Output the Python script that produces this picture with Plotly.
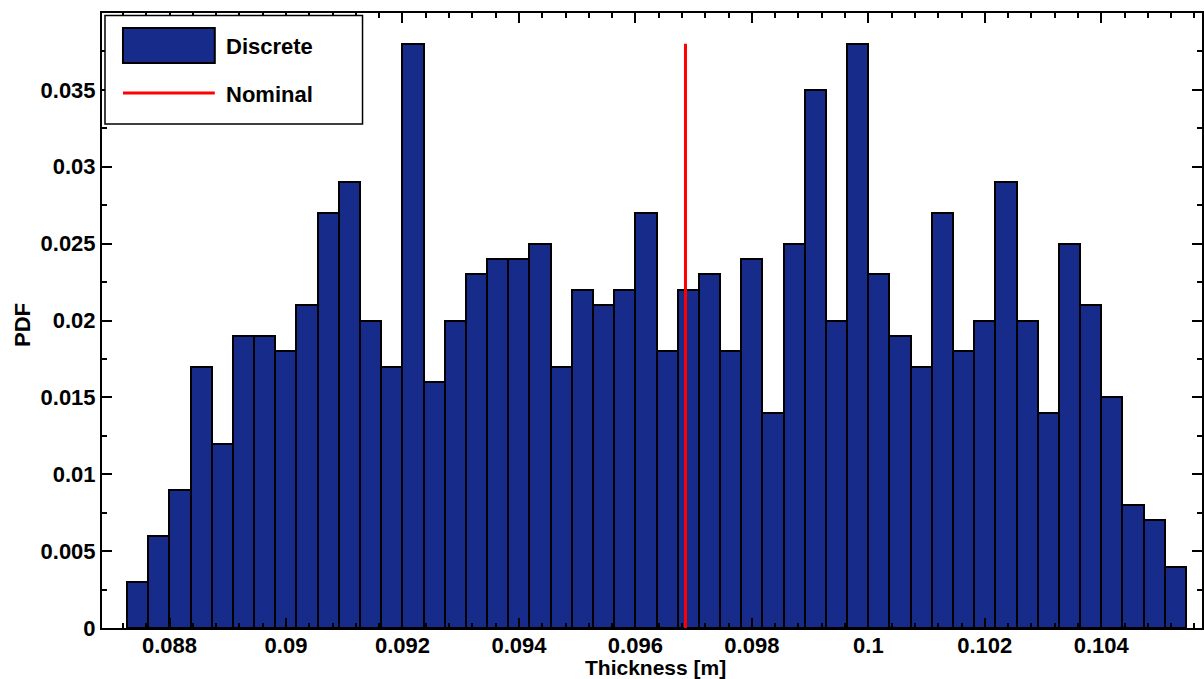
import plotly.graph_objects as go

# Histogram of sampled thickness values (probability per bin)
bin_start = 0.08727
bin_width = 0.0003637
pdf_values = [
    0.003, 0.006, 0.009, 0.017, 0.012, 0.019, 0.019, 0.018, 0.021, 0.027,
    0.029, 0.020, 0.017, 0.038, 0.016, 0.020, 0.023, 0.024, 0.024, 0.025,
    0.017, 0.022, 0.021, 0.022, 0.027, 0.018, 0.022, 0.023, 0.018, 0.024,
    0.014, 0.025, 0.035, 0.020, 0.038, 0.023, 0.019, 0.017, 0.027, 0.018,
    0.020, 0.029, 0.020, 0.014, 0.025, 0.021, 0.015, 0.008, 0.007, 0.004,
]
nominal_thickness = 0.09686

x_tick_vals = [0.088, 0.090, 0.092, 0.094, 0.096, 0.098, 0.100, 0.102, 0.104]
x_tick_text = ["0.088", "0.09", "0.092", "0.094", "0.096", "0.098", "0.1", "0.102", "0.104"]
y_tick_vals = [0, 0.005, 0.010, 0.015, 0.020, 0.025, 0.030, 0.035]
y_tick_text = ["0", "0.005", "0.01", "0.015", "0.02", "0.025", "0.03", "0.035"]

BAR_BLUE = "#162B8A"
FONT = "Liberation Sans"

centers = [bin_start + (i + 0.5) * bin_width for i in range(len(pdf_values))]

fig = go.Figure()
fig.add_trace(go.Bar(
    x=centers, y=pdf_values, width=bin_width,
    marker=dict(color=BAR_BLUE, line=dict(color="black", width=2)),
    name="Discrete", showlegend=False,
))
fig.add_trace(go.Scatter(
    x=[nominal_thickness, nominal_thickness], y=[0, max(pdf_values)],
    mode="lines", line=dict(color="#FF0000", width=3),
    name="Nominal", showlegend=False,
))

W, H = 1204, 679
ML, MR, MT, MB = 102, 0, 13, 51
PW, PH = W - ML - MR, H - MT - MB


def px(x):
    return (x - ML) / PW


def py(y):
    return (H - MB - y) / PH


tick_font = dict(family=FONT, size=22, color="black", weight="bold")

fig.update_layout(
    width=W, height=H,
    margin=dict(l=ML, r=MR, t=MT, b=MB, pad=0),
    plot_bgcolor="white", paper_bgcolor="white",
    bargap=0, showlegend=False,
    xaxis=dict(
        range=[0.08684, 0.10573],
        tickvals=x_tick_vals, ticktext=x_tick_text,
        ticks="inside", ticklen=10, tickwidth=1.5, tickcolor="black",
        minor=dict(dtick=0.0004, tick0=0.088, ticks="inside", ticklen=5,
                   tickwidth=1.5, tickcolor="black", showgrid=False),
        showline=True, linewidth=2, linecolor="black", mirror="ticks",
        showgrid=False, zeroline=False, tickfont=tick_font,
        ticklabelstandoff=-3,
    ),
    yaxis=dict(
        range=[0, 0.04],
        tickvals=y_tick_vals, ticktext=y_tick_text,
        ticks="inside", ticklen=10, tickwidth=1.5, tickcolor="black",
        minor=dict(dtick=0.0025, tick0=0, ticks="inside", ticklen=5,
                   tickwidth=1.5, tickcolor="black", showgrid=False),
        showline=True, linewidth=2, linecolor="black", mirror="ticks",
        showgrid=False, zeroline=False, tickfont=tick_font,
    ),
)

label_font = dict(family=FONT, size=22, color="black", weight="bold")
xtitle_font = dict(family=FONT, size=21, color="black", weight="bold")

# Axis titles
fig.add_annotation(text="Thickness [m]", xref="paper", yref="paper",
                   x=px(657), y=0, yshift=-39, showarrow=False,
                   xanchor="center", yanchor="middle", font=xtitle_font)
fig.add_annotation(text="PDF", xref="paper", yref="paper",
                   x=0, y=py(325), xshift=-80, showarrow=False, textangle=-90,
                   xanchor="center", yanchor="middle", font=label_font)

# Legend box
fig.add_shape(type="rect", xref="paper", yref="paper",
              x0=px(105), x1=px(363), y0=py(124), y1=py(15.5),
              line=dict(color="black", width=1.5), fillcolor="white", layer="above")
fig.add_shape(type="rect", xref="paper", yref="paper",
              x0=px(123), x1=px(215), y0=py(63), y1=py(28),
              line=dict(color="black", width=2), fillcolor=BAR_BLUE, layer="above")
fig.add_shape(type="line", xref="paper", yref="paper",
              x0=px(123), x1=px(215), y0=py(93), y1=py(93),
              line=dict(color="#FF0000", width=3), layer="above")
fig.add_annotation(text="Discrete", xref="paper", yref="paper",
                   x=px(224), y=py(46), showarrow=False,
                   xanchor="left", yanchor="middle", font=label_font)
fig.add_annotation(text="Nominal", xref="paper", yref="paper",
                   x=px(224), y=py(94), showarrow=False,
                   xanchor="left", yanchor="middle", font=label_font)

fig.write_html("out.html")
